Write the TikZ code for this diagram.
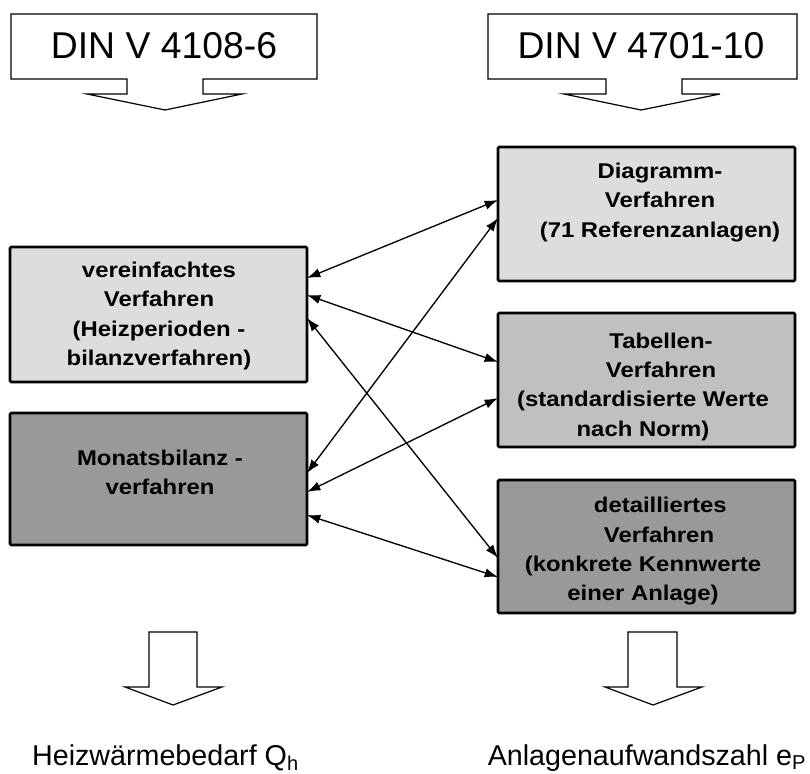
\documentclass[tikz,border=0pt]{standalone}
\usepackage{xcolor}
\usepackage{fontspec}
\usepackage{tikz}
\usetikzlibrary{arrows.meta,calc}
\setmainfont{Liberation Sans}
\newfontfamily\boxfont{Liberation Sans}[FakeStretch=1.12]
\definecolor{lightgrey}{HTML}{DDDDDD}
\definecolor{midgrey}{HTML}{C0C0C0}
\definecolor{darkgrey}{HTML}{999999}

\begin{document}
\begin{tikzpicture}[x=0.75pt,y=-0.75pt,
	box/.style={draw=black, line width=2pt, rounded corners=1pt, inner sep=0pt, outer sep=0pt, minimum width=222.75pt},
	boxtext/.style={align=center, font=\boxfont\bfseries\fontsize{16}{22}\selectfont, inner sep=0pt},
	link/.style={{Latex[length=10pt,width=7pt]}-{Latex[length=10pt,width=7pt]}, line width=1pt},
	hollow/.style={draw=black, line width=0.9pt, fill=white}]
		\useasboundingbox (0,0) rectangle (810,774);
		\draw[hollow] (11,14) -- (317,14) -- (317,79) -- (203,79) -- (203,94) -- (242,94) -- (165,110) -- (87,94) -- (127,94) -- (127,79) -- (11,79) -- cycle;
		\draw[hollow] (488,14) -- (797,14) -- (797,79) -- (682,79) -- (682,94) -- (720,94) -- (641,110) -- (564,94) -- (606,94) -- (606,79) -- (488,79) -- cycle;
		\node[anchor=base, font=\fontsize{28}{32}\selectfont] (din1) at (164,59) {DIN V 4108-6};
		\node[anchor=base, font=\fontsize{28}{32}\selectfont] (din2) at (641,59) {DIN V 4701-10};
		\node[box, fill=lightgrey, minimum height=101.25pt] (v1) at (158.5,314.5) {};
		\node[box, fill=darkgrey, minimum height=99pt] (v2) at (158.5,479) {};
		\node[box, fill=lightgrey, minimum height=100.5pt] (r1) at (646.5,214) {};
		\node[box, fill=midgrey, minimum height=100.5pt] (r2) at (646.5,380) {};
		\node[box, fill=darkgrey, minimum height=99.75pt] (r3) at (646.5,546.5) {};
		\node[boxtext] (t1) at (159,316) {vereinfachtes\\Verfahren\\(Heizperioden -\\bilanzverfahren)};
		\node[boxtext] (t2) at (160,472.5) {Monatsbilanz -\\verfahren};
		\node[boxtext] (t3) at (660,202.5) {Diagramm-\\Verfahren\\(71 Referenzanlagen)};
		\node[boxtext] (t4) at (643,386.5) {\hspace*{27pt}Tabellen-\\\hspace*{27pt}Verfahren\\(standardisierte Werte\\nach Norm)};
		\node[boxtext] (t5) at (643,551.5) {\hspace*{26pt}detailliertes\\\hspace*{24pt}Verfahren\\(konkrete Kennwerte\\einer Anlage)};
		\draw[link] ($(v1.north east)+(0,31)$) -- ($(r1.north west)+(0,53)$);
		\draw[link] ($(v1.north east)+(0,48)$) -- ($(r2.north west)+(0,49)$);
		\draw[link] ($(v1.north east)+(0,71)$) -- ($(r3.north west)+(0,78)$);
		\draw[link] ($(v2.north east)+(0,60)$) -- ($(r1.north west)+(0,71)$);
		\draw[link] ($(v2.north east)+(0,79)$) -- ($(r2.north west)+(0,85)$);
		\draw[link] ($(v2.north east)+(0,102)$) -- ($(r3.north west)+(0,97)$);
		\draw[hollow] (149,632) -- (197,632) -- (197,687) -- (222,687) -- (173,705) -- (125,687) -- (149,687) -- cycle;
		\draw[hollow] (628,632) -- (677,632) -- (677,687) -- (702,687) -- (653,705) -- (605,687) -- (628,687) -- cycle;
		\node[anchor=base, font=\fontsize{21.5}{25}\selectfont] (qh) at (165.5,765) {Heizwärmebedarf Q\textsubscript{h}};
		\node[anchor=base, font=\fontsize{21.5}{25}\selectfont] (ep) at (647,765) {Anlagenaufwandszahl e\textsubscript{P}};
		\end{tikzpicture}
\end{document}
